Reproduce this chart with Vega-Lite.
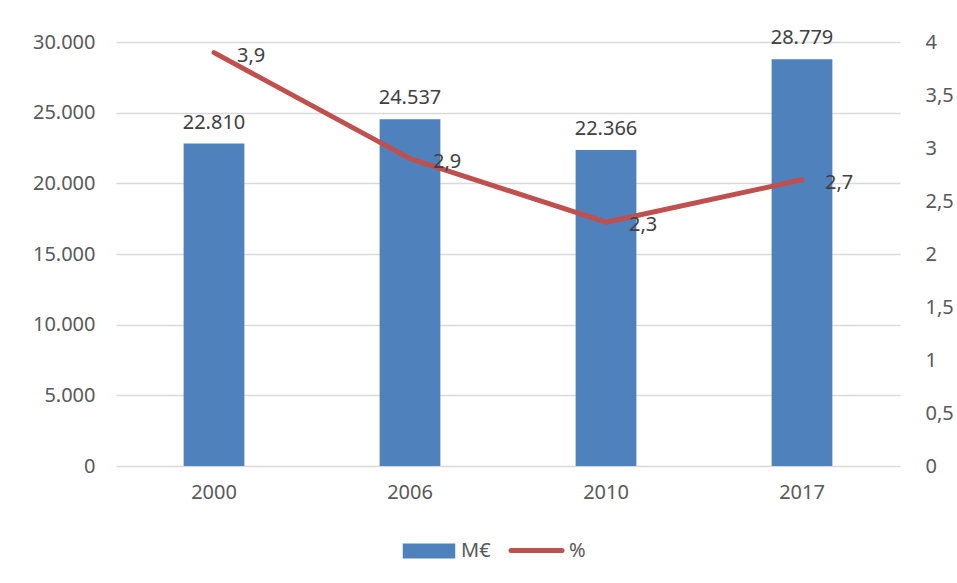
{
  "$schema": "https://vega.github.io/schema/vega-lite/v6.json",
  "autosize": "none",
  "width": 784,
  "height": 424,
  "padding": {"left": 116, "top": 42, "right": 57, "bottom": 117},
  "background": "white",
  "config": {
    "locale": {"number": {"decimal": ",", "thousands": ".", "grouping": [3], "currency": ["", " €"]}},
    "font": "Noto Sans",
    "view": {"stroke": null},
    "axis": {"labelFont": "Noto Sans", "labelFontSize": 20, "labelColor": "#595959", "ticks": false, "domain": false, "gridColor": "#d9d9d9", "gridWidth": 1.3, "title": null, "labelOverlap": false},
    "legend": {"labelFont": "Noto Sans", "labelFontSize": 20, "labelColor": "#595959", "title": null}
  },
  "data": {"values": [
    {"year": "2000", "meur": 22810, "pct": 3.9},
    {"year": "2006", "meur": 24537, "pct": 2.9},
    {"year": "2010", "meur": 22366, "pct": 2.3},
    {"year": "2017", "meur": 28779, "pct": 2.7}
  ]},
  "encoding": {
    "x": {"field": "year", "type": "nominal", "scale": {"paddingInner": 0.69, "paddingOuter": 0.345},
      "axis": {"labelAngle": 0, "labelPadding": 16, "grid": false, "domain": false}}
  },
  "layer": [
    {
      "layer": [
        {
          "mark": {"type": "bar"},
          "encoding": {
            "y": {"field": "meur", "type": "quantitative", "scale": {"domain": [0, 30000]},
              "axis": {"format": ",.0f", "values": [0, 5000, 10000, 15000, 20000, 25000, 30000], "labelPadding": 21, "orient": "left"}},
            "fill": {"datum": "M€", "type": "nominal",
              "scale": {"range": ["#4f81bd"]},
              "legend": {
                "orient": "none", "legendX": 298, "legendY": 494,
                "labelOffset": 17, "symbolSize": 900,
                "symbolType": "M-1.75,-0.5H1.75V0.5H-1.75Z", "symbolStrokeWidth": 0
              }}
          }
        },
        {
          "mark": {"type": "text", "dy": -11, "baseline": "bottom", "fontSize": 20, "color": "#404040"},
          "encoding": {
            "y": {"field": "meur", "type": "quantitative", "scale": {"domain": [0, 30000]}},
            "text": {"field": "meur", "type": "quantitative", "format": ",.0f"}
          }
        }
      ]
    },
    {
      "layer": [
        {
          "mark": {"type": "line", "strokeWidth": 5, "strokeCap": "round", "strokeJoin": "round"},
          "encoding": {
            "y": {"field": "pct", "type": "quantitative", "scale": {"domain": [0, 4]},
              "axis": {"format": ".1~f", "values": [0, 0.5, 1, 1.5, 2, 2.5, 3, 3.5, 4], "orient": "right", "grid": false, "labelPadding": 25}},
            "stroke": {"datum": "%", "type": "nominal",
              "scale": {"range": ["#c0504d"]},
              "legend": {
                "orient": "none", "legendX": 403, "legendY": 491,
                "labelOffset": 15, "symbolSize": 900,
                "symbolType": "M-1.7,0L1.7,0", "symbolStrokeWidth": 5,
                "encode": {"symbols": {"update": {"strokeCap": {"value": "round"}}}}
              }}
          }
        },
        {
          "mark": {"type": "text", "dx": 23, "dy": 3, "align": "left", "baseline": "middle", "fontSize": 20, "color": "#404040"},
          "encoding": {
            "y": {"field": "pct", "type": "quantitative", "scale": {"domain": [0, 4]}},
            "text": {"field": "pct", "type": "quantitative", "format": ".1f"}
          }
        }
      ]
    }
  ],
  "resolve": {"scale": {"y": "independent"}}
}
